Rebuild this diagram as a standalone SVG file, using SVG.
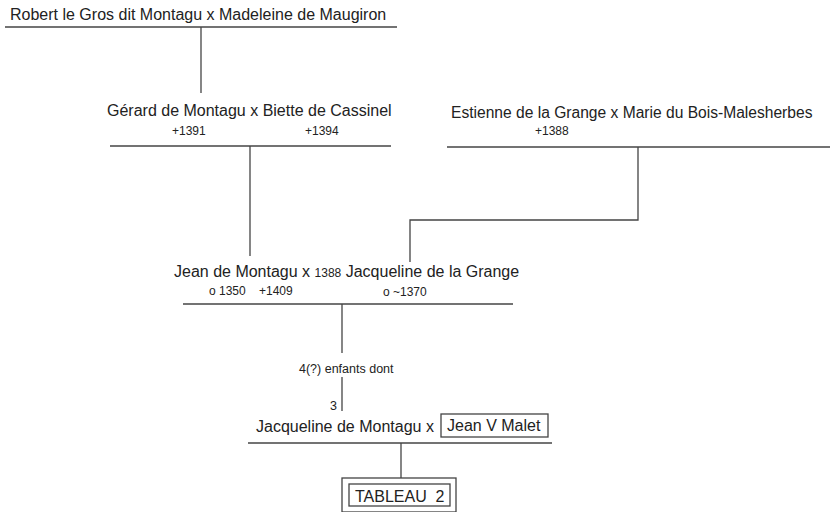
<svg xmlns="http://www.w3.org/2000/svg" width="832" height="512" viewBox="0 0 832 512">
<style>
text{font-family:"Liberation Sans",Arial,sans-serif;fill:#222}
.n{font-size:16px}
.s{font-size:12px}
.m{font-size:12.5px}
line,polyline,rect{stroke:#444;stroke-width:1.3;fill:none}
</style>
<rect x="0" y="0" width="832" height="512" style="fill:#fff;stroke:none"/>
<g id="connectors">
<line x1="201" y1="27" x2="201" y2="93"/>
<line x1="250" y1="146" x2="250" y2="256"/>
<polyline points="638,147 638,220 410,220 410,262"/>
<line x1="342" y1="304" x2="342" y2="353"/>
<line x1="342" y1="377" x2="342" y2="411"/>
<line x1="401" y1="443" x2="401" y2="478"/>
</g>
<g id="robert">
<text class="n" x="10" y="20">Robert le Gros dit Montagu x Madeleine de Maugiron</text>
<line x1="5" y1="27" x2="397" y2="27"/>
</g>
<g id="gerard">
<text class="n" x="107" y="116">Gérard de Montagu x Biette de Cassinel</text>
<text class="s" x="172" y="135">+1391</text>
<text class="s" x="305" y="135">+1394</text>
<line x1="110" y1="146" x2="391" y2="146"/>
</g>
<g id="estienne">
<text class="n" x="451" y="118" style="font-size:15.6px">Estienne de la Grange x Marie du Bois-Malesherbes</text>
<text class="s" x="535" y="135">+1388</text>
<line x1="447" y1="147" x2="830" y2="147"/>
</g>
<g id="jean">
<text class="n" x="174" y="277">Jean de Montagu x <tspan class="s">1388</tspan> Jacqueline de la Grange</text>
<text class="s" x="209" y="295">o 1350</text>
<text class="s" x="259" y="295">+1409</text>
<text class="s" x="383" y="296">o ~1370</text>
<line x1="183" y1="304" x2="513" y2="304"/>
</g>
<g id="enfants">
<text class="m" x="299" y="373">4(?) enfants dont</text>
<text class="m" x="330" y="410">3</text>
</g>
<g id="jacqueline">
<text class="n" x="256" y="432">Jacqueline de Montagu x</text>
<rect x="441" y="414" width="107" height="23"/>
<text class="n" x="447" y="431">Jean V Malet</text>
<line x1="248" y1="443" x2="552" y2="443"/>
</g>
<g id="tableau2">
<rect x="342" y="478" width="114" height="34"/>
<rect x="349" y="484" width="101" height="22"/>
<text class="n" x="355" y="502" xml:space="preserve">TABLEAU  2</text>
</g>
</svg>
